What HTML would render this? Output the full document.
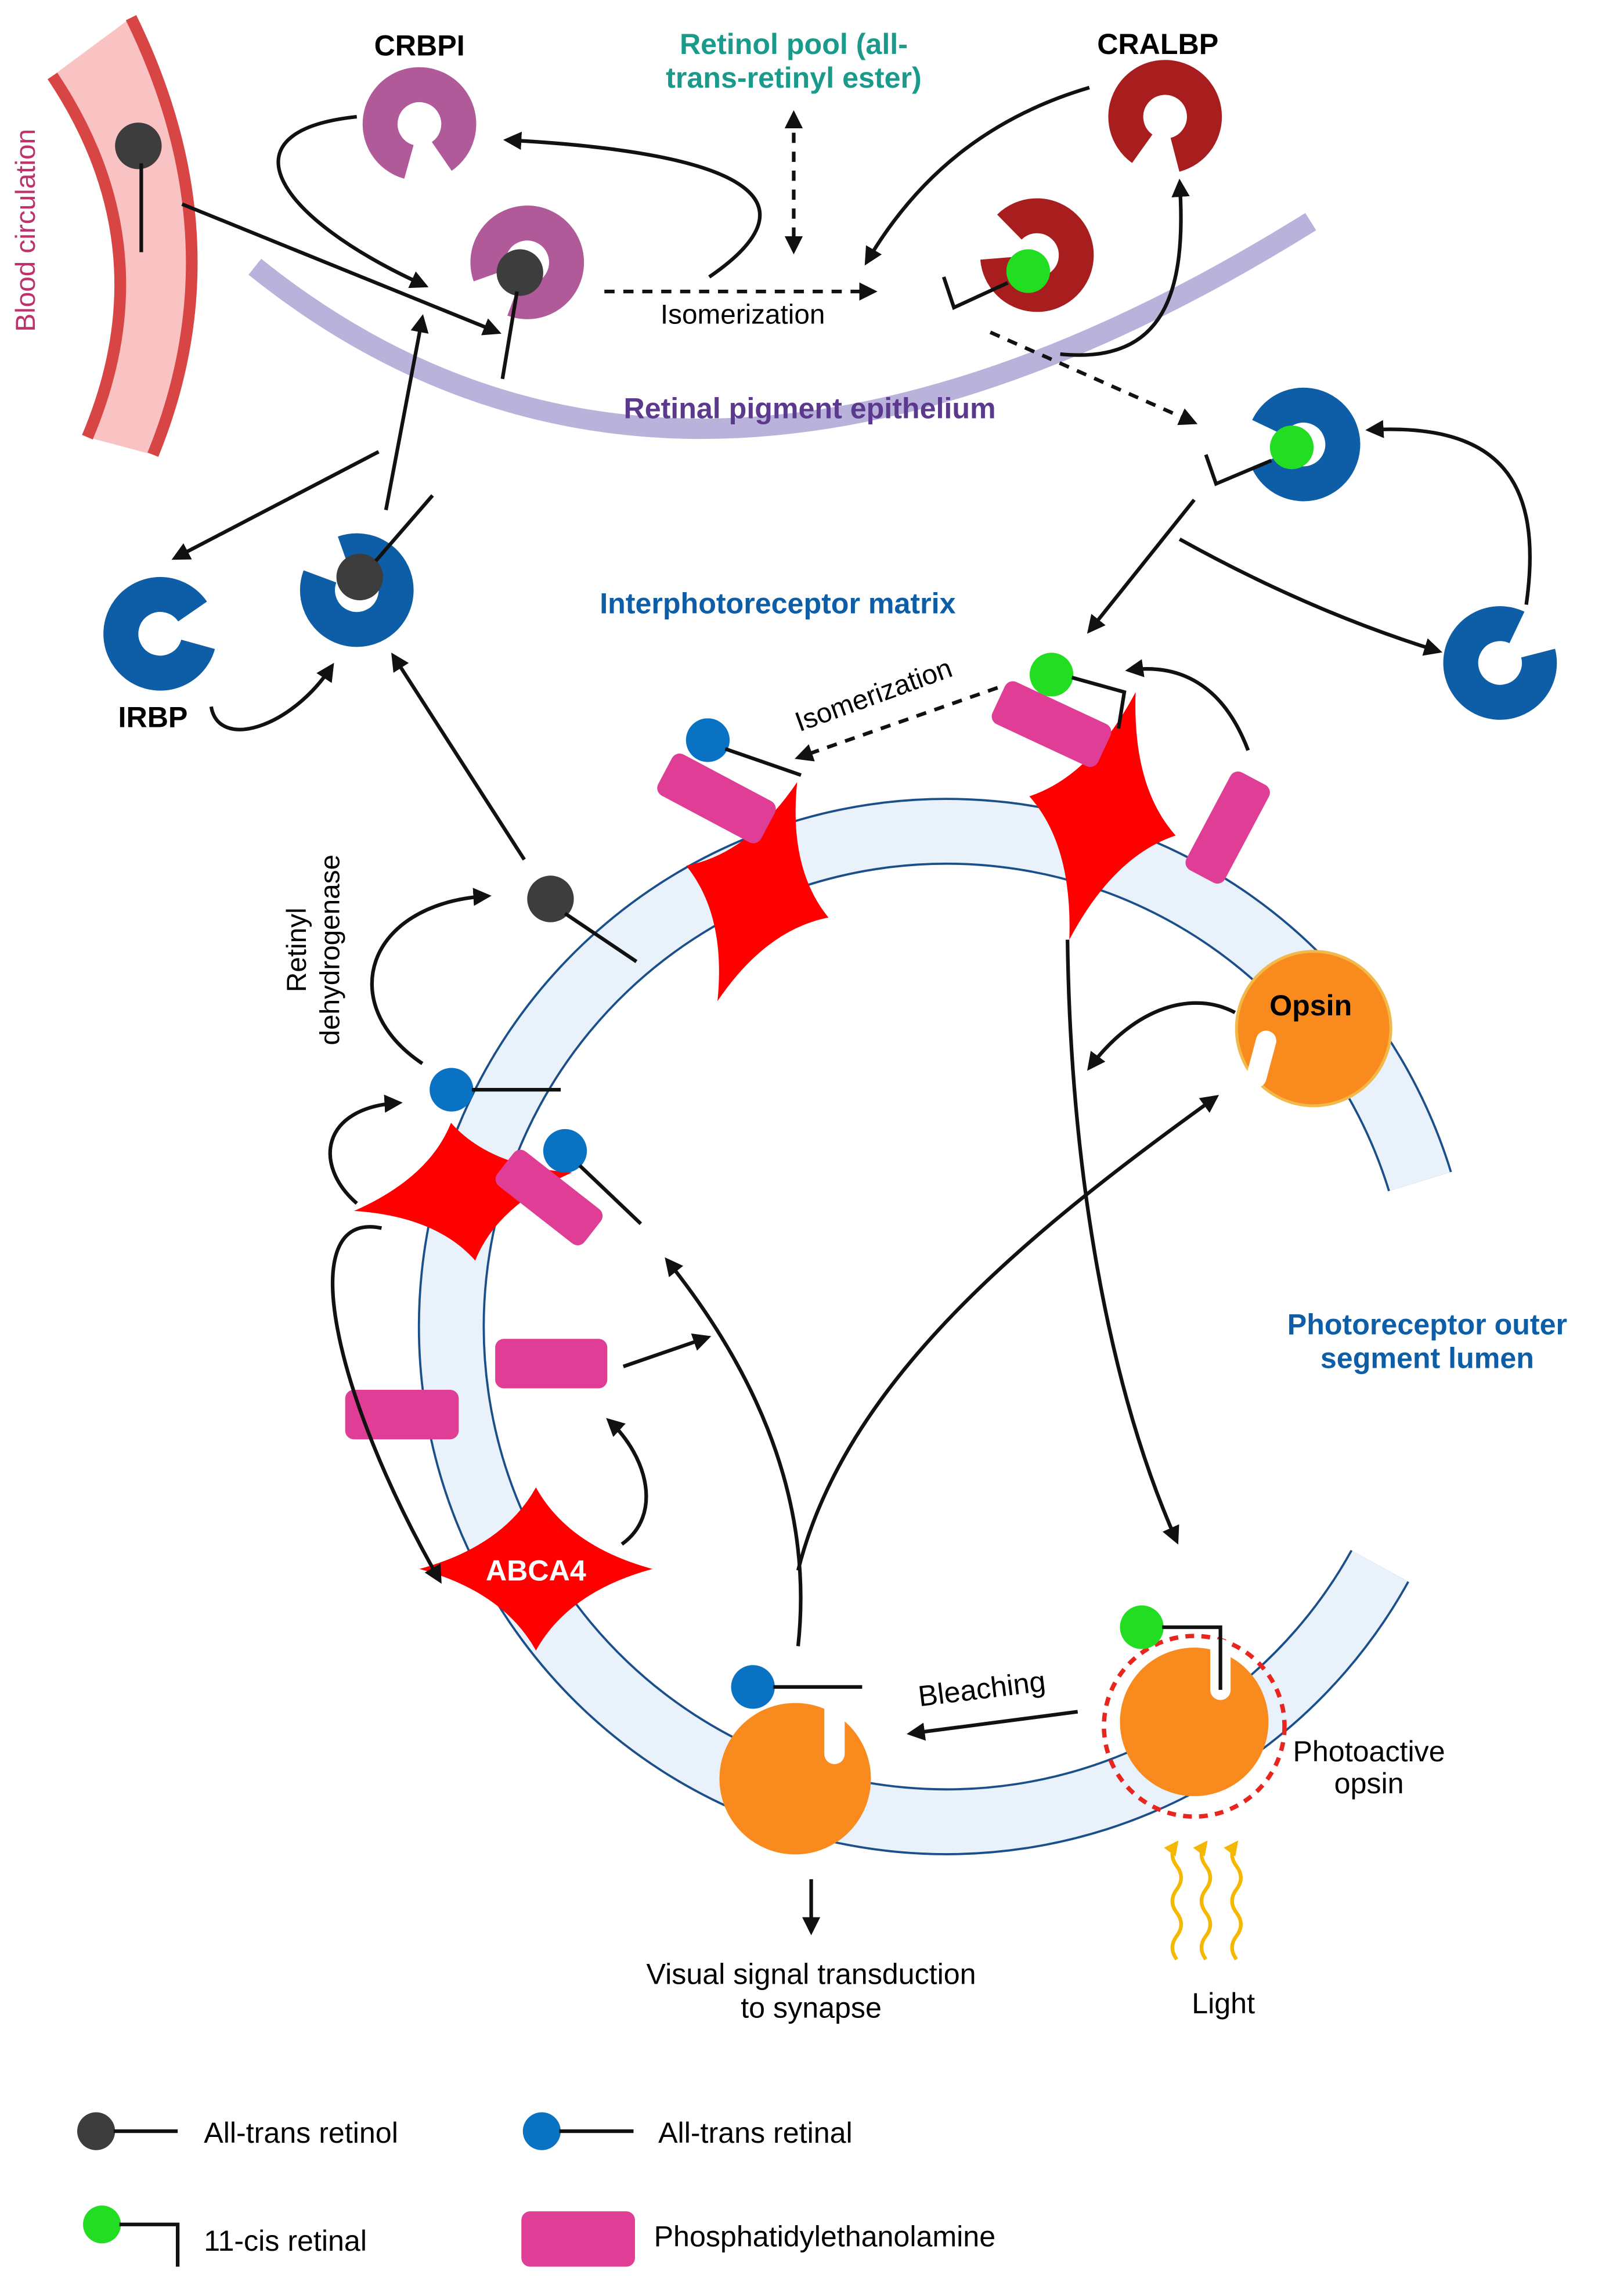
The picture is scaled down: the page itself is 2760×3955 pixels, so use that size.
<!DOCTYPE html>
<html><head><meta charset="utf-8"><style>
html,body{margin:0;padding:0;background:#fff;}
svg{display:block;}
text{font-family:"Liberation Sans",sans-serif;}
</style></head><body>
<svg width="2760" height="3955" viewBox="0 0 1100 1576" xmlns="http://www.w3.org/2000/svg">
<defs>
<marker id="ah" viewBox="0 0 10 10" refX="8" refY="5" markerWidth="5" markerHeight="5" orient="auto-start-reverse"><path d="M0,0 L10,5 L0,10 z" fill="#111"/></marker>
<marker id="ay" viewBox="0 0 10 10" refX="8" refY="5" markerWidth="4" markerHeight="4" orient="auto"><path d="M0,0 L10,5 L0,10 z" fill="#f5b800"/></marker>
<path id="star" d="M0,-1 Q0.28,-0.28 1,0 Q0.28,0.28 0,1 Q-0.28,0.28 -1,0 Q-0.28,-0.28 0,-1z"/>
</defs>
<rect width="1100" height="1576" fill="#fff"/>

<!-- Blood vessel -->
<path d="M90,12 Q165,165 105,312 L60,300 Q115,170 36,52 Z" fill="#fac3c3"/>
<path d="M90,12 Q165,165 105,312" fill="none" stroke="#d84545" stroke-width="8"/>
<path d="M36,52 Q115,170 60,300" fill="none" stroke="#d84545" stroke-width="8"/>
<text x="24" y="158" transform="rotate(-90 24 158)" text-anchor="middle" font-size="19" fill="#c0306a">Blood circulation</text>
<circle cx="95" cy="100" r="16" fill="#3d3d3d"/>
<line x1="97" y1="112" x2="97" y2="173" stroke="#111" stroke-width="2.5"/>

<!-- RPE -->
<path d="M175,183 Q470,420 900,152" fill="none" stroke="#b9b3dc" stroke-width="14"/>
<text x="556" y="287" text-anchor="middle" font-size="20" font-weight="bold" fill="#5b3a8e">Retinal pigment epithelium</text>

<!-- labels top -->
<text x="288" y="38" text-anchor="middle" font-size="20" font-weight="bold">CRBPI</text>
<text x="545" y="37" text-anchor="middle" font-size="20" font-weight="bold" fill="#1a9a8a">Retinol pool (all-</text>
<text x="545" y="60" text-anchor="middle" font-size="20" font-weight="bold" fill="#1a9a8a">trans-retinyl ester)</text>
<text x="795" y="37" text-anchor="middle" font-size="20" font-weight="bold">CRALBP</text>

<!-- C shapes -->
<g fill="none" stroke-width="24" stroke-dasharray="146 24">
<circle cx="288" cy="85" r="27" stroke="#b05a9a" transform="rotate(105.5 288 85)"/>
<circle cx="362" cy="180" r="27" stroke="#b05a9a" transform="rotate(160.5 362 180)"/>
<circle cx="800" cy="80" r="27" stroke="#a81e1e" transform="rotate(125.5 800 80)"/>
<circle cx="712" cy="175" r="27" stroke="#a81e1e" transform="rotate(225.5 712 175)"/>
<circle cx="895" cy="305" r="27" stroke="#0d5ea6" transform="rotate(205.5 895 305)"/>
<circle cx="1030" cy="455" r="27" stroke="#0d5ea6" transform="rotate(-14.5 1030 455)"/>
<circle cx="110" cy="435" r="27" stroke="#0d5ea6" transform="rotate(15.5 110 435)"/>
<circle cx="245" cy="405" r="27" stroke="#0d5ea6" transform="rotate(-109.5 245 405)"/>
</g>

<!-- retinol in purple C -->
<circle cx="357" cy="187" r="16" fill="#3d3d3d"/>
<line x1="355" y1="200" x2="345" y2="260" stroke="#111" stroke-width="2.5"/>
<line x1="125" y1="140" x2="342" y2="228" stroke="#111" stroke-width="2.5" marker-end="url(#ah)"/>
<path d="M245,80 C150,90 190,150 292,196" fill="none" stroke="#111" stroke-width="2.5" marker-end="url(#ah)"/>
<path d="M487,190 C560,140 520,105 348,96" fill="none" stroke="#111" stroke-width="2.5" marker-end="url(#ah)"/>
<line x1="415" y1="200" x2="600" y2="200" stroke="#111" stroke-width="2.5" stroke-dasharray="7 6" marker-end="url(#ah)"/>
<text x="510" y="222" text-anchor="middle" font-size="19">Isomerization</text>
<line x1="545" y1="78" x2="545" y2="172" stroke="#111" stroke-width="2.5" stroke-dasharray="7 6" marker-start="url(#ah)" marker-end="url(#ah)"/>

<!-- CRALBP region -->
<path d="M748,60 C680,80 630,120 595,180" fill="none" stroke="#111" stroke-width="2.5" marker-end="url(#ah)"/>
<path d="M728,243 C800,250 815,200 810,125" fill="none" stroke="#111" stroke-width="2.5" marker-end="url(#ah)"/>
<circle cx="706" cy="186" r="15" fill="#22dd22"/>
<polyline points="692,194 655,211 648,190" fill="none" stroke="#111" stroke-width="2.5"/>
<line x1="680" y1="228" x2="820" y2="290" stroke="#111" stroke-width="2.5" stroke-dasharray="7 6" marker-end="url(#ah)"/>
<circle cx="887" cy="307" r="15" fill="#22dd22"/>
<polyline points="873,316 835,332 828,312" fill="none" stroke="#111" stroke-width="2.5"/>
<path d="M1048,415 C1060,330 1030,290 940,295" fill="none" stroke="#111" stroke-width="2.5" marker-end="url(#ah)"/>
<path d="M810,370 Q900,420 988,447" fill="none" stroke="#111" stroke-width="2.5" marker-end="url(#ah)"/>
<line x1="820" y1="343" x2="748" y2="433" stroke="#111" stroke-width="2.5" marker-end="url(#ah)"/>

<text x="534" y="421" text-anchor="middle" font-size="20" font-weight="bold" fill="#0d5ea6">Interphotoreceptor matrix</text>

<!-- left IRBP -->
<circle cx="247" cy="396" r="16" fill="#3d3d3d"/>
<line x1="258" y1="385" x2="297" y2="340" stroke="#111" stroke-width="2.5"/>
<text x="105" y="499" text-anchor="middle" font-size="20" font-weight="bold">IRBP</text>
<path d="M145,485 C150,515 200,500 228,457" fill="none" stroke="#111" stroke-width="2.5" marker-end="url(#ah)"/>
<line x1="260" y1="310" x2="120" y2="383" stroke="#111" stroke-width="2.5" marker-end="url(#ah)"/>
<line x1="265" y1="350" x2="290" y2="218" stroke="#111" stroke-width="2.5" marker-end="url(#ah)"/>
<line x1="360" y1="590" x2="270" y2="450" stroke="#111" stroke-width="2.5" marker-end="url(#ah)"/>

<!-- disc ring -->
<path d="M975,811 A340,340 0 1 0 947.5,1075" fill="none" stroke="#1a4f8a" stroke-width="46"/>
<path d="M975,811 A340,340 0 1 0 947.5,1075" fill="none" stroke="#e9f2fb" stroke-width="43"/>

<circle cx="378" cy="617" r="16" fill="#3d3d3d"/>
<line x1="388" y1="627" x2="437" y2="660" stroke="#111" stroke-width="2.5"/>
<path d="M290,730 C230,690 250,620 335,615" fill="none" stroke="#111" stroke-width="2.5" marker-end="url(#ah)"/>
<text x="210" y="652" transform="rotate(-90 210 652)" text-anchor="middle" font-size="19">Retinyl</text>
<text x="233" y="652" transform="rotate(-90 233 652)" text-anchor="middle" font-size="19">dehydrogenase</text>

<!-- stars -->
<use href="#star" fill="#ff0000" transform="translate(520,612) rotate(20) scale(52,80)"/>
<use href="#star" fill="#ff0000" transform="translate(757,560) rotate(15) scale(52,88)"/>
<use href="#star" fill="#ff0000" transform="translate(318,818) rotate(-10) scale(76,48)"/>
<use href="#star" fill="#ff0000" transform="translate(368,1077) scale(80,56)"/>
<text x="368" y="1085" text-anchor="middle" font-size="20" font-weight="bold" fill="#fff">ABCA4</text>

<!-- pink PE -->
<g fill="#e03e96">
<rect x="-40" y="-16" width="80" height="32" rx="6" transform="translate(492,548) rotate(28)"/>
<rect x="-40" y="-16" width="80" height="32" rx="6" transform="translate(722,497) rotate(25)"/>
<rect x="-38" y="-15" width="76" height="30" rx="6" transform="translate(843,568) rotate(-62)"/>
<rect x="-38" y="-15" width="76" height="30" rx="6" transform="translate(377,822) rotate(38)"/>
<rect x="340" y="919" width="77" height="34" rx="6"/>
<rect x="237" y="954" width="78" height="34" rx="6"/>
</g>

<circle cx="486" cy="508" r="15" fill="#0a72c2"/>
<line x1="498" y1="514" x2="550" y2="532" stroke="#111" stroke-width="2.5"/>
<circle cx="310" cy="748" r="15" fill="#0a72c2"/>
<line x1="324" y1="748" x2="385" y2="748" stroke="#111" stroke-width="2.5"/>
<circle cx="388" cy="790" r="15" fill="#0a72c2"/>
<line x1="398" y1="800" x2="440" y2="840" stroke="#111" stroke-width="2.5"/>
<circle cx="722" cy="463" r="15" fill="#22dd22"/>
<polyline points="736,465 772,475 768,500" fill="none" stroke="#111" stroke-width="2.5"/>

<line x1="685" y1="472" x2="548" y2="520" stroke="#111" stroke-width="2.5" stroke-dasharray="7 6" marker-end="url(#ah)"/>
<text x="602" y="483" transform="rotate(-20 602 483)" text-anchor="middle" font-size="19">Isomerization</text>
<path d="M857,515 C840,470 810,455 775,460" fill="none" stroke="#111" stroke-width="2.5" marker-end="url(#ah)"/>

<!-- Opsin -->
<circle cx="902" cy="706" r="53" fill="#f98a1d" stroke="#f3b84a" stroke-width="2"/>
<text x="900" y="697" text-anchor="middle" font-size="20" font-weight="bold">Opsin</text>
<rect x="-7" y="-20" width="14" height="40" rx="7" fill="#fff" transform="translate(866,727) rotate(15)"/>
<path d="M848,695 C820,680 780,690 748,733" fill="none" stroke="#111" stroke-width="2.5" marker-end="url(#ah)"/>
<path d="M733,645 C735,800 760,950 808,1058" fill="none" stroke="#111" stroke-width="2.5" marker-end="url(#ah)"/>
<path d="M548,1078 C580,950 700,850 835,753" fill="none" stroke="#111" stroke-width="2.5" marker-end="url(#ah)"/>
<path d="M548,1130 C560,1020 510,930 458,865" fill="none" stroke="#111" stroke-width="2.5" marker-end="url(#ah)"/>
<line x1="428" y1="938" x2="486" y2="918" stroke="#111" stroke-width="2.5" marker-end="url(#ah)"/>
<path d="M427,1060 C455,1040 445,1000 418,975" fill="none" stroke="#111" stroke-width="2.5" marker-end="url(#ah)"/>
<path d="M245,826 C215,800 220,760 274,757" fill="none" stroke="#111" stroke-width="2.5" marker-end="url(#ah)"/>
<path d="M262,843 C200,830 230,960 302,1085" fill="none" stroke="#111" stroke-width="2.5" marker-end="url(#ah)"/>

<text x="980" y="916" text-anchor="middle" font-size="20" font-weight="bold" fill="#0d5ea6">Photoreceptor outer</text>
<text x="980" y="939" text-anchor="middle" font-size="20" font-weight="bold" fill="#0d5ea6">segment lumen</text>

<!-- bottom opsin -->
<circle cx="546" cy="1221" r="52" fill="#f98a1d"/>
<rect x="566" y="1165" width="14" height="46" rx="7" fill="#fff"/>
<circle cx="517" cy="1158" r="15" fill="#0a72c2"/>
<line x1="531" y1="1158" x2="592" y2="1158" stroke="#111" stroke-width="2.5"/>
<line x1="557" y1="1290" x2="557" y2="1326" stroke="#111" stroke-width="2.5" marker-end="url(#ah)"/>
<text x="557" y="1362" text-anchor="middle" font-size="20">Visual signal transduction</text>
<text x="557" y="1385" text-anchor="middle" font-size="20">to synapse</text>

<!-- photoactive -->
<circle cx="820" cy="1185" r="62" fill="none" stroke="#e8261e" stroke-width="3" stroke-dasharray="6 5"/>
<circle cx="820" cy="1182" r="51" fill="#f98a1d"/>
<rect x="831" y="1125" width="14" height="42" rx="7" fill="#fff"/>
<circle cx="784" cy="1117" r="15" fill="#22dd22"/>
<polyline points="798,1117 838,1117 838,1160" fill="none" stroke="#111" stroke-width="2.5"/>
<text x="940" y="1209" text-anchor="middle" font-size="20">Photoactive</text>
<text x="940" y="1231" text-anchor="middle" font-size="20">opsin</text>
<line x1="740" y1="1175" x2="625" y2="1190" stroke="#111" stroke-width="2.5" marker-end="url(#ah)"/>
<text x="675" y="1166" transform="rotate(-7 675 1166)" text-anchor="middle" font-size="20">Bleaching</text>
<g fill="none" stroke="#f5b800" stroke-width="2.5">
<path d="M808,1345 q-6,-8 0,-16 q6,-8 0,-16 q-6,-8 0,-16 q6,-8 0,-16 q-6,-8 0,-16" marker-end="url(#ay)"/>
<path d="M828,1345 q-6,-8 0,-16 q6,-8 0,-16 q-6,-8 0,-16 q6,-8 0,-16 q-6,-8 0,-16" marker-end="url(#ay)"/>
<path d="M849,1345 q-6,-8 0,-16 q6,-8 0,-16 q-6,-8 0,-16 q6,-8 0,-16 q-6,-8 0,-16" marker-end="url(#ay)"/>
</g>
<text x="840" y="1382" text-anchor="middle" font-size="20">Light</text>

<!-- legend -->
<circle cx="66" cy="1463" r="13" fill="#3d3d3d"/>
<line x1="78" y1="1463" x2="122" y2="1463" stroke="#111" stroke-width="2.5"/>
<text x="140" y="1471" font-size="20">All-trans retinol</text>
<circle cx="372" cy="1463" r="13" fill="#0a72c2"/>
<line x1="384" y1="1463" x2="435" y2="1463" stroke="#111" stroke-width="2.5"/>
<text x="452" y="1471" font-size="20">All-trans retinal</text>
<circle cx="70" cy="1527" r="13" fill="#22dd22"/>
<polyline points="82,1527 122,1527 122,1556" fill="none" stroke="#111" stroke-width="2.5"/>
<text x="140" y="1545" font-size="20">11-cis retinal</text>
<rect x="358" y="1518" width="78" height="38" rx="6" fill="#e03e96"/>
<text x="449" y="1542" font-size="20">Phosphatidylethanolamine</text>
</svg>
</body></html>
